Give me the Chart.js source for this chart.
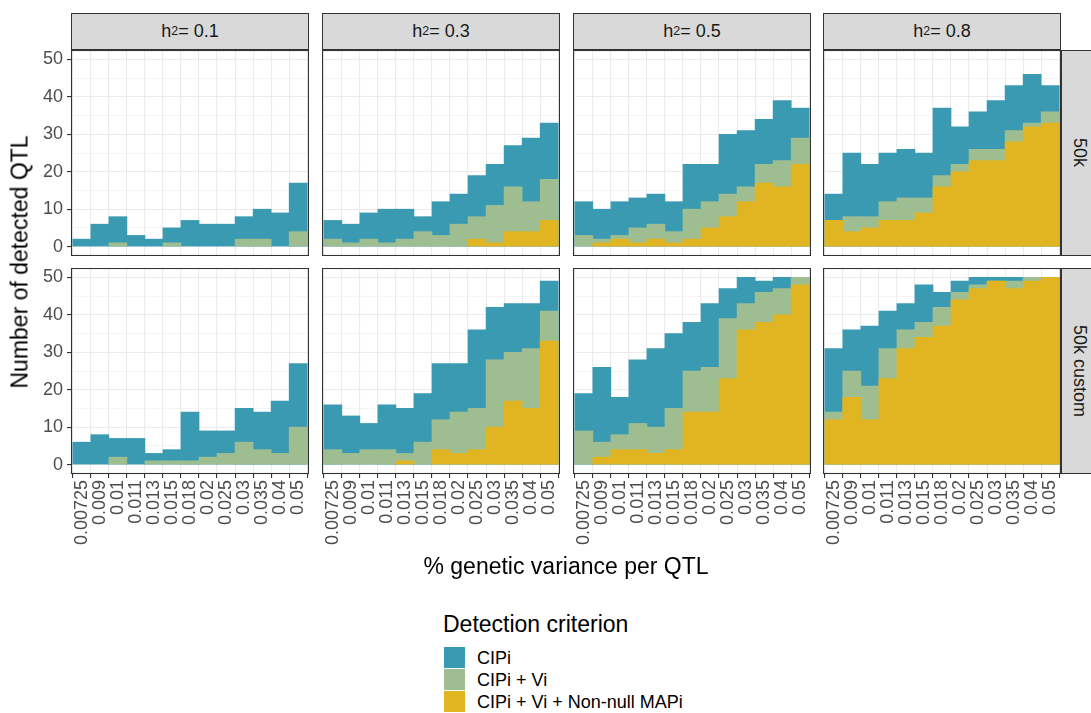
<!DOCTYPE html>
<html>
<head>
<meta charset="utf-8">
<script src="https://cdn.jsdelivr.net/npm/chart.js@4.4.0/dist/chart.umd.min.js"></script>
<style>
body { margin: 0; background: #fff; font-family: 'Liberation Sans', Arial, sans-serif; }
#wrap { position: relative; width: 1091px; height: 713px; overflow: hidden; background: #fff; }
canvas { position: absolute; }
.strip { position: absolute; background: #D9D9D9; border: 1px solid #333; box-sizing: border-box;
  color: #1A1A1A; font-size: 18px; display: flex; align-items: center; justify-content: center; }
.strip sup { font-size: 12.5px; position: relative; top: -1px; }
.vstrip span { writing-mode: vertical-rl; }
.txt { position: absolute; white-space: nowrap; color: #000; }
.key { position: absolute; width: 21px; height: 21px; }
</style>
</head>
<body>
<div id="wrap"></div>
<script>
// x categories: % genetic variance per QTL
const xLabels = ['0.00725', '0.009', '0.01', '0.011', '0.013', '0.015', '0.018',
                 '0.02', '0.025', '0.03', '0.035', '0.04', '0.05'];
const h2Levels = ['0.1', '0.3', '0.5', '0.8'];
const chipLevels = ['50k', '50k custom'];
const criteria = ['CIPi', 'CIPi + Vi', 'CIPi + Vi + Non-null MAPi'];
const criteriaColors = ['#3A9AB2', '#9EBE91', '#E1B521'];
const yTicks = [0, 5, 10, 15, 20, 25, 30, 35, 40, 45, 50];

// number of detected QTL, one row per h2 level
const cipi50k = [
  [2, 6, 8, 3, 2, 5, 7, 6, 6, 8, 10, 9, 17],
  [7, 6, 9, 10, 10, 8, 12, 14, 19, 22, 27, 29, 33],
  [12, 10, 12, 13, 14, 12, 22, 22, 30, 31, 34, 39, 37],
  [14, 25, 22, 25, 26, 25, 37, 32, 36, 39, 43, 46, 43]
];
const cipiVi50k = [
  [0, 0, 1, 0, 0, 1, 0, 0, 0, 2, 2, 0, 4],
  [2, 1, 2, 1, 2, 4, 3, 6, 8, 11, 16, 12, 18],
  [3, 2, 3, 5, 6, 4, 10, 12, 14, 16, 22, 23, 29],
  [7, 8, 8, 12, 13, 13, 19, 22, 26, 26, 31, 33, 36]
];
const cipiViMapi50k = [
  [0, 0, 0, 0, 0, 0, 0, 0, 0, 0, 0, 0, 0],
  [0, 0, 0, 0, 0, 0, 0, 0, 2, 1, 4, 4, 7],
  [0, 1, 2, 1, 2, 1, 2, 5, 8, 12, 17, 16, 22],
  [7, 4, 5, 7, 7, 9, 16, 20, 23, 23, 28, 32, 33]
];
const cipi50kCustom = [
  [6, 8, 7, 7, 3, 4, 14, 9, 9, 15, 14, 17, 27],
  [16, 13, 11, 16, 15, 19, 27, 27, 36, 42, 43, 43, 49],
  [19, 26, 18, 28, 31, 35, 38, 43, 47, 50, 49, 50, 50],
  [31, 36, 37, 41, 43, 48, 46, 49, 50, 50, 50, 50, 50]
];
const cipiVi50kCustom = [
  [0, 0, 2, 0, 1, 1, 1, 2, 3, 6, 4, 3, 10],
  [4, 3, 4, 4, 3, 6, 12, 14, 15, 28, 30, 31, 41],
  [9, 6, 8, 11, 10, 15, 25, 26, 39, 43, 46, 47, 50],
  [14, 25, 21, 31, 36, 38, 42, 46, 48, 49, 49, 50, 50]
];
const cipiViMapi50kCustom = [
  [0, 0, 0, 0, 0, 0, 0, 0, 0, 0, 0, 0, 0],
  [0, 0, 0, 0, 1, 0, 4, 3, 4, 10, 17, 15, 33],
  [0, 2, 4, 4, 3, 4, 14, 14, 23, 36, 38, 40, 48],
  [12, 18, 12, 23, 31, 34, 37, 44, 47, 49, 47, 49, 50]
];

const rowsData = [
  [cipi50k, cipiVi50k, cipiViMapi50k],
  [cipi50kCustom, cipiVi50kCustom, cipiViMapi50kCustom]
];

Chart.defaults.font.family = "'Liberation Sans', Arial, sans-serif";
Chart.defaults.color = '#4D4D4D';

const wrap = document.getElementById('wrap');
const colLeft = [71, 322, 573, 823];
const rowTop = [50, 268];
const W = 238, H = 206;

const panelBorder = {
  id: 'panelBorder',
  afterDraw(chart) {
    const a = chart.chartArea, ctx = chart.ctx;
    ctx.save();
    ctx.strokeStyle = '#333333';
    ctx.lineWidth = 1.1;
    ctx.strokeRect(a.left + 0.5, a.top + 0.5, a.right - a.left - 1, a.bottom - a.top - 1);
    ctx.restore();
  }
};

function toPoints(vals) {
  return vals.map((v, i) => ({ x: i + 1, y: v === 0 ? null : v }));
}

function addDiv(cls, css, html) {
  const d = document.createElement('div');
  d.className = cls;
  Object.assign(d.style, css);
  d.innerHTML = html;
  wrap.appendChild(d);
  return d;
}

for (let r = 0; r < 2; r++) {
  for (let c = 0; c < 4; c++) {
    const leftExtra = c === 0 ? 52 : 0;
    const bottomExtra = r === 1 ? 100 : 0;
    const cv = document.createElement('canvas');
    cv.width = W + leftExtra;
    cv.height = H + bottomExtra;
    cv.style.left = (colLeft[c] - leftExtra) + 'px';
    cv.style.top = rowTop[r] + 'px';
    wrap.appendChild(cv);

    const series = rowsData[r];
    // last criterion first so it sits on top of the others
    const datasets = [2, 1, 0].map(k => ({
      label: criteria[k],
      data: toPoints(series[k][c]),
      backgroundColor: criteriaColors[k],
      borderWidth: 0,
      grouped: false,
      barPercentage: 1,
      categoryPercentage: 1
    }));

    new Chart(cv, {
      type: 'bar',
      data: { datasets: datasets },
      options: {
        responsive: false,
        animation: false,
        events: [],
        layout: { padding: 0 },
        plugins: { legend: { display: false }, tooltip: { enabled: false } },
        scales: {
          x: {
            type: 'linear', min: 0.4, max: 13.6, offset: false,
            afterBuildTicks: s => { s.ticks = xLabels.map((_, i) => ({ value: i + 1 })); },
            afterFit: s => { s.height = bottomExtra; s.paddingLeft = 0; s.paddingRight = 0; },
            border: { display: false },
            grid: { color: '#EBEBEB', lineWidth: 1.1, drawTicks: r === 1, tickLength: 4,
                    tickColor: '#333333', tickWidth: 1.1 },
            ticks: { display: r === 1, autoSkip: false, minRotation: 90, maxRotation: 90,
                     padding: 2, font: { size: 18 }, color: '#4D4D4D',
                     callback: v => xLabels[v - 1] }
          },
          y: {
            type: 'linear', min: -2.5, max: 52.5,
            afterBuildTicks: s => { s.ticks = yTicks.map(v => ({ value: v })); },
            afterFit: s => { s.width = leftExtra; s.paddingTop = 0; s.paddingBottom = 0; },
            border: { display: false },
            grid: {
              color: '#EBEBEB',
              lineWidth: ctx => (ctx.tick && ctx.tick.value % 10 !== 0) ? 0.55 : 1.1,
              drawTicks: c === 0, tickLength: 4,
              tickColor: ctx => (ctx.tick && ctx.tick.value % 10 !== 0) ? 'rgba(0,0,0,0)' : '#333333',
              tickWidth: 1.1
            },
            ticks: { display: c === 0, autoSkip: false, padding: 4, font: { size: 18 }, color: '#4D4D4D',
                     callback: v => (v % 10 === 0 ? String(v) : '') }
          }
        }
      },
      plugins: [panelBorder]
    });
  }
}

// facet strips on top
h2Levels.forEach((h, c) => {
  addDiv('strip', { left: colLeft[c] + 'px', top: '13px', width: W + 'px', height: '37px' },
         'h<sup>2</sup>= ' + h);
});
// facet strips on the right
chipLevels.forEach((chip, r) => {
  addDiv('strip vstrip', { left: '1061px', top: rowTop[r] + 'px', width: '37px', height: H + 'px' },
         '<span>' + chip + '</span>');
});

// axis titles
addDiv('txt', { left: '20px', top: '262px', fontSize: '23px',
                transform: 'translate(-50%, -50%) rotate(-90deg)' }, 'Number of detected QTL');
addDiv('txt', { left: '566px', top: '566px', fontSize: '23px',
                transform: 'translate(-50%, -50%)' }, '% genetic variance per QTL');

// legend
addDiv('txt', { left: '443px', top: '611px', fontSize: '23px' }, 'Detection criterion');
criteria.forEach((name, k) => {
  const y = 647 + k * 22;
  addDiv('key', { left: '444px', top: y + 'px', background: criteriaColors[k] }, '');
  addDiv('txt', { left: '477px', top: (y + 1) + 'px', fontSize: '18px', lineHeight: '21px' }, name);
});
</script>
</body>
</html>
